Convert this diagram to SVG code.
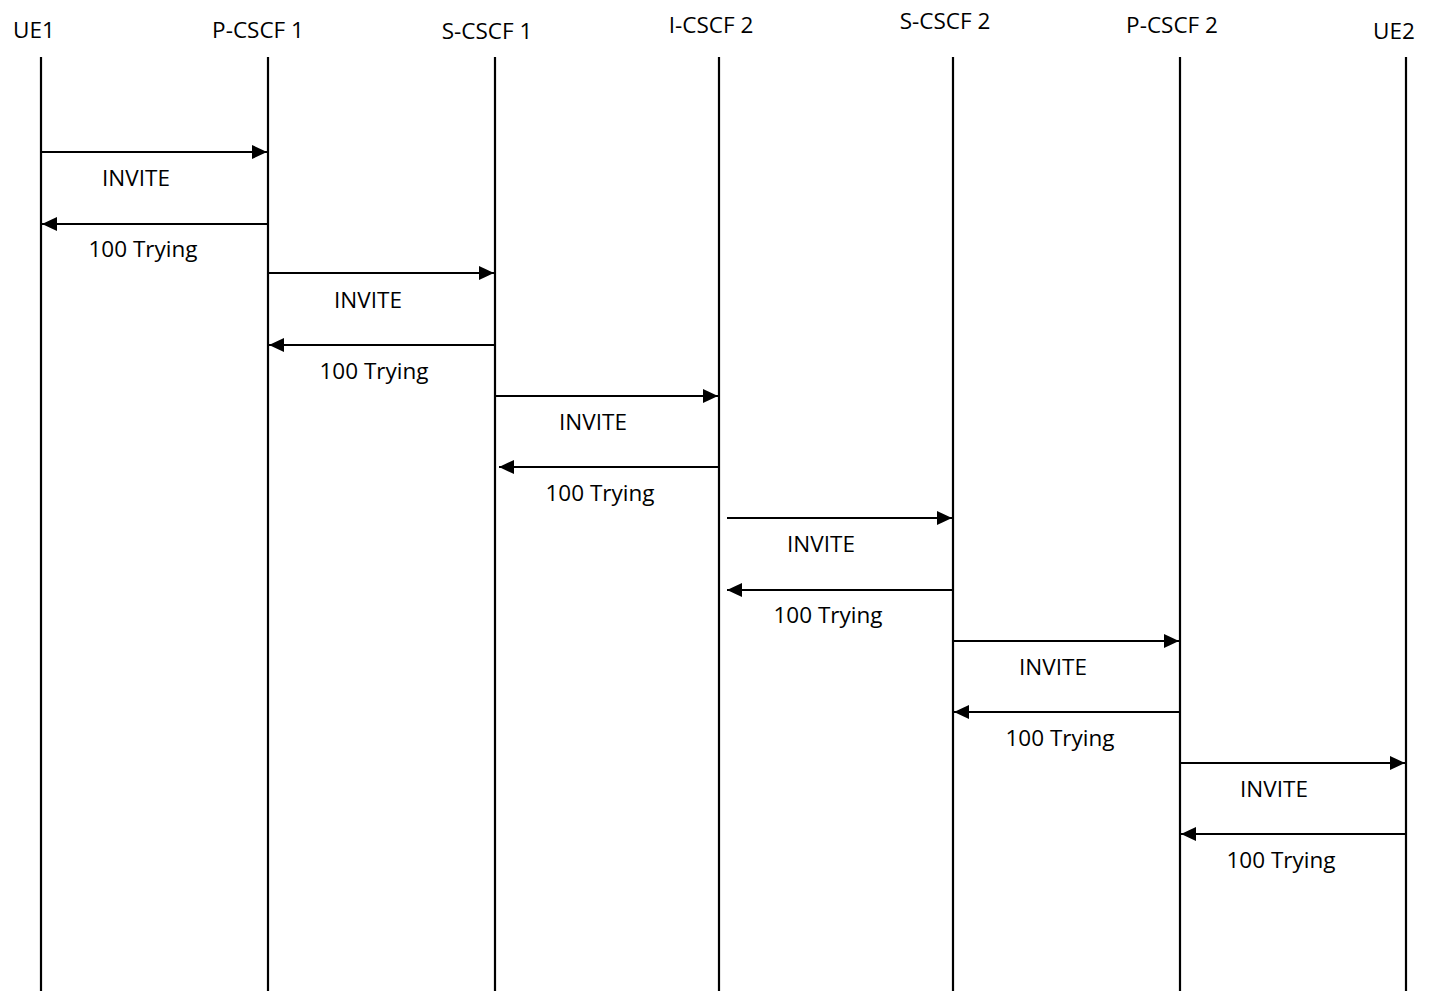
<svg xmlns="http://www.w3.org/2000/svg" width="1431" height="991" viewBox="0 0 1431 991">
<defs>
<style>
.life{stroke:#000;stroke-width:2.2;fill:none}
.msg{stroke:#000;stroke-width:2;fill:none;marker-end:url(#ah)}
text{font-family:"Open Sans","Liberation Sans",Arial,sans-serif;font-size:22.5px;fill:#000;text-anchor:middle}
</style>
<marker id="ah" markerUnits="userSpaceOnUse" markerWidth="16" markerHeight="14" refX="15" refY="7" orient="auto">
<path d="M0,0 L15,7 L0,14 z" fill="#000"/>
</marker>
</defs>
<rect width="1431" height="991" fill="#fff"/>
<g id="ue1"><text x="34" y="38">UE1</text><line class="life" x1="41" y1="57" x2="41" y2="991"/></g>
<g id="pcscf1"><text x="258" y="38">P-CSCF 1</text><line class="life" x1="268" y1="57" x2="268" y2="991"/></g>
<g id="scscf1"><text x="487" y="39">S-CSCF 1</text><line class="life" x1="495" y1="57" x2="495" y2="991"/></g>
<g id="icscf2"><text x="711" y="33">I-CSCF 2</text><line class="life" x1="719" y1="57" x2="719" y2="991"/></g>
<g id="scscf2"><text x="945" y="29">S-CSCF 2</text><line class="life" x1="953" y1="57" x2="953" y2="991"/></g>
<g id="pcscf2"><text x="1172" y="33">P-CSCF 2</text><line class="life" x1="1180" y1="57" x2="1180" y2="991"/></g>
<g id="ue2"><text x="1394" y="39">UE2</text><line class="life" x1="1406" y1="57" x2="1406" y2="991"/></g>
<g id="connectors">
<line class="msg" x1="41" y1="152" x2="267" y2="152"/>
<line class="msg" x1="267" y1="224" x2="42" y2="224"/>
<line class="msg" x1="268" y1="273" x2="494" y2="273"/>
<line class="msg" x1="494" y1="345" x2="269" y2="345"/>
<line class="msg" x1="495" y1="396" x2="718" y2="396"/>
<line class="msg" x1="718" y1="467" x2="499" y2="467"/>
<line class="msg" x1="727" y1="518" x2="952" y2="518"/>
<line class="msg" x1="952" y1="590" x2="727" y2="590"/>
<line class="msg" x1="953" y1="641" x2="1179" y2="641"/>
<line class="msg" x1="1179" y1="712" x2="954" y2="712"/>
<line class="msg" x1="1180" y1="763" x2="1405" y2="763"/>
<line class="msg" x1="1405" y1="834" x2="1181" y2="834"/>
</g>
<g id="labels">
<text x="136" y="186">INVITE</text>
<text x="143" y="257">100 Trying</text>
<text x="368" y="308">INVITE</text>
<text x="374" y="379">100 Trying</text>
<text x="593" y="430">INVITE</text>
<text x="600" y="501">100 Trying</text>
<text x="821" y="552">INVITE</text>
<text x="828" y="623">100 Trying</text>
<text x="1053" y="675">INVITE</text>
<text x="1060" y="746">100 Trying</text>
<text x="1274" y="797">INVITE</text>
<text x="1281" y="868">100 Trying</text>
</g>
</svg>
